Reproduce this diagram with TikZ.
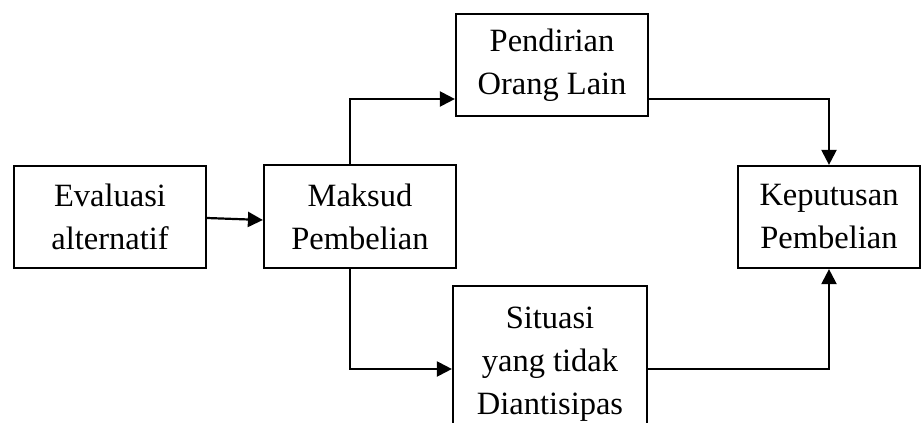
\documentclass[tikz,border=0pt]{standalone}
\usepackage{fontspec}
\setmainfont{Liberation Serif}
\usetikzlibrary{arrows.meta}
\begin{document}
\begin{tikzpicture}[x=1pt,y=-1pt,
  box/.style={draw,line width=2.2pt,rectangle,inner sep=0pt,align=center,
    font=\fontsize{32.5}{43}\selectfont},
  conn/.style={line width=2.2pt,-{Triangle[length=15pt,width=15pt]}}]
\useasboundingbox (0,0) rectangle (921,423);
\clip (0,0) rectangle (921,423);
\node[box,minimum width=192pt,minimum height=102pt] (ev) at (110,217) {Evaluasi\\alternatif};
\node[box,minimum width=192pt,minimum height=103pt] (mk) at (360,216.5) {Maksud\\Pembelian};
\node[box,minimum width=192pt,minimum height=102pt] (pe) at (552,65) {Pendirian\\Orang Lain};
\node[box,minimum width=182pt,minimum height=102pt] (ke) at (829,217) {Keputusan\\Pembelian};
\node[box,minimum width=194pt,minimum height=156pt] (si) at (550,364) {Situasi\\yang tidak\\Diantisipas};
\draw[conn] ([yshift=-1pt]ev.east) -- ([yshift=-3.5pt]mk.west);
\draw[conn] ([xshift=-10pt]mk.north) |- ([yshift=-34pt]pe.west);
\draw[conn] ([yshift=-34pt]pe.east) -| (ke.north);
\draw[conn] ([xshift=-10pt]mk.south) |- ([yshift=-5pt]si.west);
\draw[conn] ([yshift=-5pt]si.east) -| (ke.south);
\end{tikzpicture}
\end{document}
